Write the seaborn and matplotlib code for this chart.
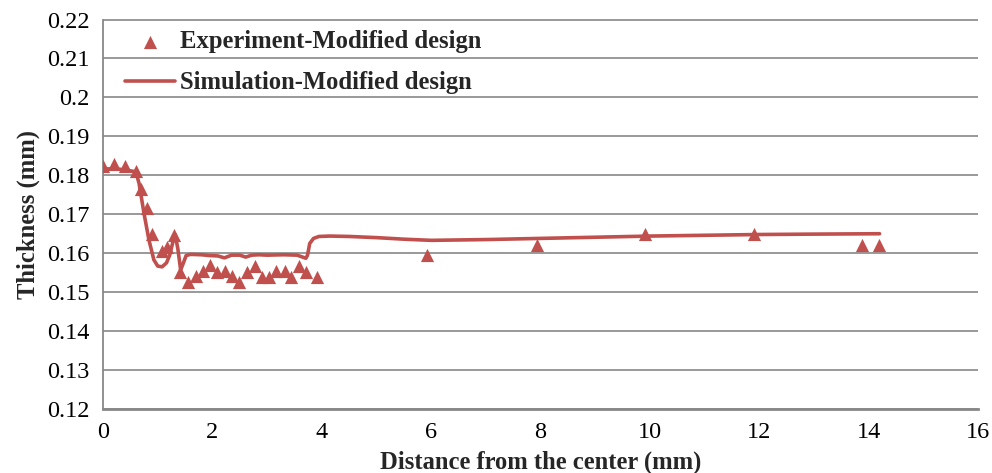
import matplotlib
matplotlib.use("Agg")
import matplotlib.pyplot as plt
import matplotlib.ticker as mticker
import seaborn as sns
import pandas as pd

# Experimental data (Experiment-Modified design)
exp_x = [0.0, 0.2, 0.4, 0.6, 0.7, 0.8, 0.9, 1.07, 1.17, 1.3, 1.4, 1.55, 1.7, 1.83, 1.95,
         2.08, 2.23, 2.36, 2.49, 2.64, 2.78, 2.9, 3.04, 3.17, 3.32, 3.44, 3.58, 3.72, 3.92,
         5.92, 7.93, 9.91, 11.9, 13.88, 14.19]
exp_y = [0.1825, 0.183, 0.1825, 0.181, 0.1765, 0.1715, 0.165, 0.1605, 0.1615, 0.1647,
         0.1553, 0.1525, 0.1542, 0.1554, 0.1569, 0.1553, 0.1555, 0.1542, 0.1527, 0.1553,
         0.1567, 0.154, 0.154, 0.1555, 0.1555, 0.154, 0.1567, 0.1553, 0.154,
         0.1595, 0.1622, 0.1649, 0.1649, 0.1622, 0.1622]

# Simulation data (Simulation-Modified design)
sim_x = [0.0, 0.2, 0.4, 0.6, 0.66, 0.75, 0.84, 0.93, 1.0, 1.08, 1.16, 1.22, 1.28, 1.32,
         1.37, 1.42, 1.47, 1.52, 1.6, 1.8, 1.95, 2.1, 2.22, 2.35, 2.5, 2.61, 2.72, 2.85,
         3.0, 3.3, 3.55, 3.65, 3.71, 3.74, 3.78, 3.85, 3.95, 4.15, 4.5, 5.0, 5.5, 6.0,
         7.0, 8.0, 9.0, 10.0, 11.0, 12.0, 13.0, 14.2]
sim_y = [0.1816, 0.1817, 0.1814, 0.1809, 0.1779, 0.1702, 0.1634, 0.1583, 0.1567, 0.1565,
         0.1575, 0.1595, 0.163, 0.1648, 0.161, 0.1557, 0.1575, 0.1594, 0.1597, 0.1596,
         0.1594, 0.1593, 0.1588, 0.1595, 0.1595, 0.159, 0.1595, 0.1596, 0.1595, 0.1596,
         0.1595, 0.159, 0.1587, 0.1595, 0.1625, 0.1638, 0.1643, 0.1644, 0.1643, 0.164,
         0.1636, 0.1633, 0.1635, 0.1638, 0.1641, 0.1644, 0.1646, 0.1648, 0.1649, 0.165]

x_ticks = [0, 2, 4, 6, 8, 10, 12, 14, 16]
y_ticks = [0.12, 0.13, 0.14, 0.15, 0.16, 0.17, 0.18, 0.19, 0.20, 0.21, 0.22]

exp_label = "Experiment-Modified design"
sim_label = "Simulation-Modified design"
x_title = "Distance from the center (mm)"
y_title = "Thickness (mm)"

sns.set_style("white")
plt.rcParams['font.family'] = ['Liberation Serif', 'DejaVu Serif']

red = "#C0504D"
grid_gray = "#888888"

fig = plt.figure(figsize=(9.92, 4.73), dpi=100)
ax = fig.add_axes([103/992, 1 - 409/473, (978-103)/992, (409-19.5)/473])

df_exp = pd.DataFrame({"x": exp_x, "y": exp_y})
df_sim = pd.DataFrame({"x": sim_x, "y": sim_y})

sns.scatterplot(data=df_exp, x="x", y="y", marker="^", s=90, color=red,
                edgecolor=red, linewidth=0, ax=ax, label=exp_label, zorder=3)
sns.lineplot(data=df_sim, x="x", y="y", color=red, linewidth=2.6, ax=ax,
             label=sim_label, zorder=2)

ax.set_xlim(0, 16)
ax.set_ylim(0.12, 0.22)
ax.set_xticks(x_ticks)
ax.set_yticks(y_ticks)
ax.yaxis.set_major_formatter(mticker.FuncFormatter(lambda v, p: f"{v:.2f}".rstrip('0')))
ax.tick_params(axis='both', length=0, labelsize=17.5, colors='black')
ax.tick_params(axis='y', pad=9.5)
ax.tick_params(axis='x', pad=9)

ax.yaxis.grid(True, color=grid_gray, linewidth=1.2)
ax.xaxis.grid(False)
ax.set_axisbelow(True)
for s in ['top', 'right']:
    ax.spines[s].set_visible(False)
ax.spines['left'].set_color(grid_gray)
ax.spines['left'].set_linewidth(1.3)
ax.spines['bottom'].set_color(grid_gray)
ax.spines['bottom'].set_linewidth(2.0)

ax.set_xlabel(x_title, fontsize=17.7, fontweight='bold', labelpad=6)
ax.set_ylabel(y_title, fontsize=17.7, fontweight='bold', labelpad=5)

leg = ax.legend(loc='upper left', bbox_to_anchor=(0.0251, 0.972), frameon=False,
                prop={'family': 'Liberation Serif', 'weight': 'bold', 'size': 17.7},
                handlelength=2.03, handletextpad=0.2, labelspacing=0.73,
                borderaxespad=0, borderpad=0)

fig.savefig("out.png", dpi=100, facecolor='white')
